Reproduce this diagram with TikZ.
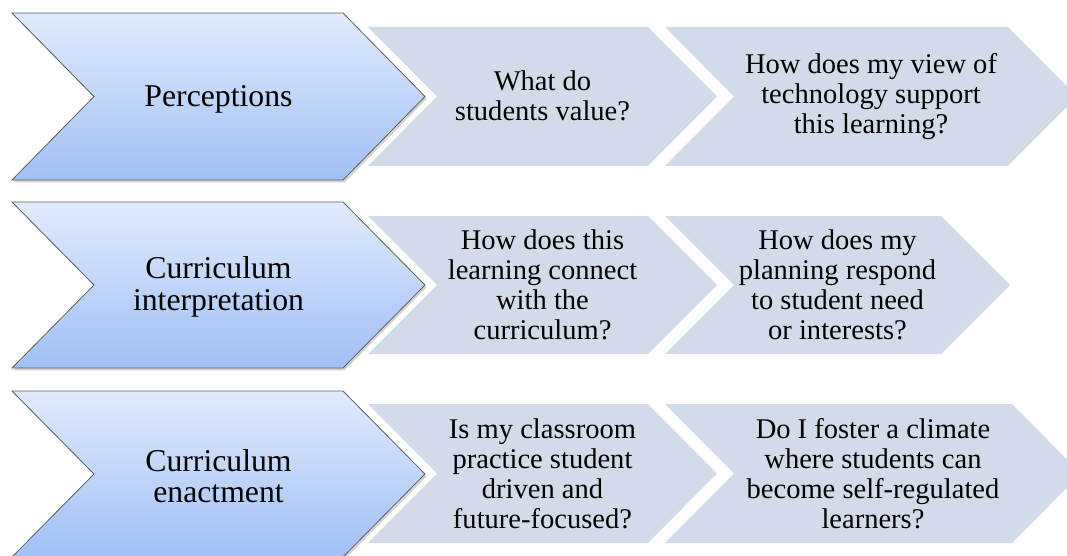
\documentclass[tikz,border=0pt]{standalone}
\usepackage{fontspec}
\setmainfont{Liberation Serif}
\usetikzlibrary{shadows}
\definecolor{smallfill}{RGB}{211,218,233}
\definecolor{bigtop}{RGB}{225,235,253}
\definecolor{bigbot}{RGB}{160,192,245}
\definecolor{bigedge}{RGB}{95,95,95}
% chevron outline: left, tip, top, bottom, depth
\newcommand{\chevoutline}[5]{(#1,#3) -- ({#2-#5},#3) -- (#2,{(#3+#4)/2}) -- ({#2-#5},#4) -- (#1,#4) -- ({#1+#5},{(#3+#4)/2}) -- cycle}
\tikzset{
  smallchev/.style={fill=smallfill, draw=none},
  bigchev/.style={top color=bigtop, bottom color=bigbot, draw=bigedge, line width=0.6pt, line join=miter,
    drop shadow={opacity=0.35, shadow xshift=1.2pt, shadow yshift=-1.8pt}},
  bigtext/.style={align=center, inner sep=0pt, font=\fontsize{23.8}{23.6}\selectfont},
  smalltext/.style={align=center, inner sep=0pt, font=\fontsize{21.4}{22.5}\selectfont},
}
\begin{document}
\begin{tikzpicture}[x=0.75pt, y=-0.75pt]
\useasboundingbox (0,0) rectangle (1067,556);
\clip (0,0) rectangle (1067,556);
% Row 1
\path[smallchev] \chevoutline{665}{1077}{27}{166}{69};
\path[smallchev] \chevoutline{368}{717}{27}{166}{69};
\path[bigchev] \chevoutline{12}{425}{13}{180}{82};
\node[bigtext] (p1) at (218.5,99) {Perceptions};
\node[smalltext] (q11) at (542.5,96) {What do\\students value?};
\node[smalltext] (q12) at (871,97) {How does my view of\\technology support\\this learning?};
% Row 2
\path[smallchev] \chevoutline{665}{1010}{216}{354}{69};
\path[smallchev] \chevoutline{368}{717}{216}{354}{69};
\path[bigchev] \chevoutline{12}{425}{202}{368}{82};
\node[bigtext] (p2) at (218.5,287) {Curriculum\\interpretation};
\node[smalltext] (q21) at (542.5,285) {How does this\\learning connect\\with the\\curriculum?};
\node[smalltext] (q22) at (837.5,285) {How does my\\planning respond\\to student need\\or interests?};
% Row 3
\path[smallchev] \chevoutline{665}{1081}{404}{543}{69};
\path[smallchev] \chevoutline{368}{717}{404}{543}{69};
\path[bigchev] \chevoutline{12}{425}{391}{557}{82};
\node[bigtext] (p3) at (218.5,476) {Curriculum\\enactment};
\node[smalltext] (q31) at (542.5,474) {Is my classroom\\practice student\\driven and\\future-focused?};
\node[smalltext] (q32) at (873,474) {Do I foster a climate\\where students can\\become self-regulated\\learners?};
\end{tikzpicture}
\end{document}
